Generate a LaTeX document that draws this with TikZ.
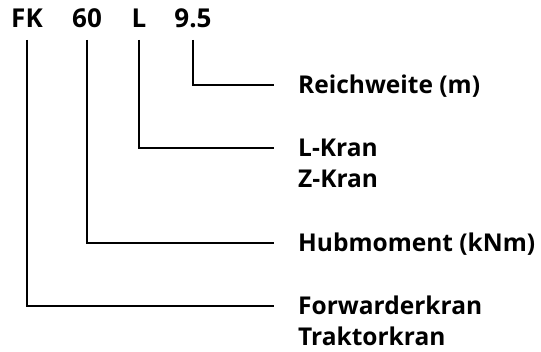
\documentclass[tikz,border=0pt]{standalone}
\usepackage{fontspec}
\setmainfont{Open Sans}
\usetikzlibrary{positioning}
\begin{document}
\begin{tikzpicture}[x=1pt,y=-1pt,
  code/.style={font=\fontsize{26}{30}\selectfont\bfseries, inner sep=0pt, anchor=base},
  lab/.style={font=\fontsize{24.5}{29}\selectfont\bfseries, inner sep=0pt, anchor=west, text height=17pt, text depth=0pt},
  leader/.style={line width=1.4pt}]
\useasboundingbox (0,0) rectangle (541,352);
% type code
\node[code] (fk) at (27,28) {FK};
\node[code] (mom) at (87,28) {60};
\node[code] (typ) at (139,28) {L};
\node[code] (reach) at (193,28) {9.5};
% meanings
\node[lab] (rw) at (298,85) {Reichweite (m)};
\node[lab] (lk) at (298,148) {L-Kran};
\node[lab, below=14pt of lk.south west, anchor=north west] (zk) {Z-Kran};
\node[lab] (hub) at (298,243) {Hubmoment (kNm)};
\node[lab] (fw) at (298,306) {Forwarderkran};
\node[lab, below=14pt of fw.south west, anchor=north west] (tk) {Traktorkran};
% leaders
\draw[leader] ([yshift=-12pt]reach.base) |- ([xshift=-24pt]rw.west);
\draw[leader] ([yshift=-12pt]typ.base) |- ([xshift=-24pt]lk.west);
\draw[leader] ([yshift=-12pt]mom.base) |- ([xshift=-24pt]hub.west);
\draw[leader] ([yshift=-12pt]fk.base) |- ([xshift=-24pt]fw.west);
\end{tikzpicture}
\end{document}
